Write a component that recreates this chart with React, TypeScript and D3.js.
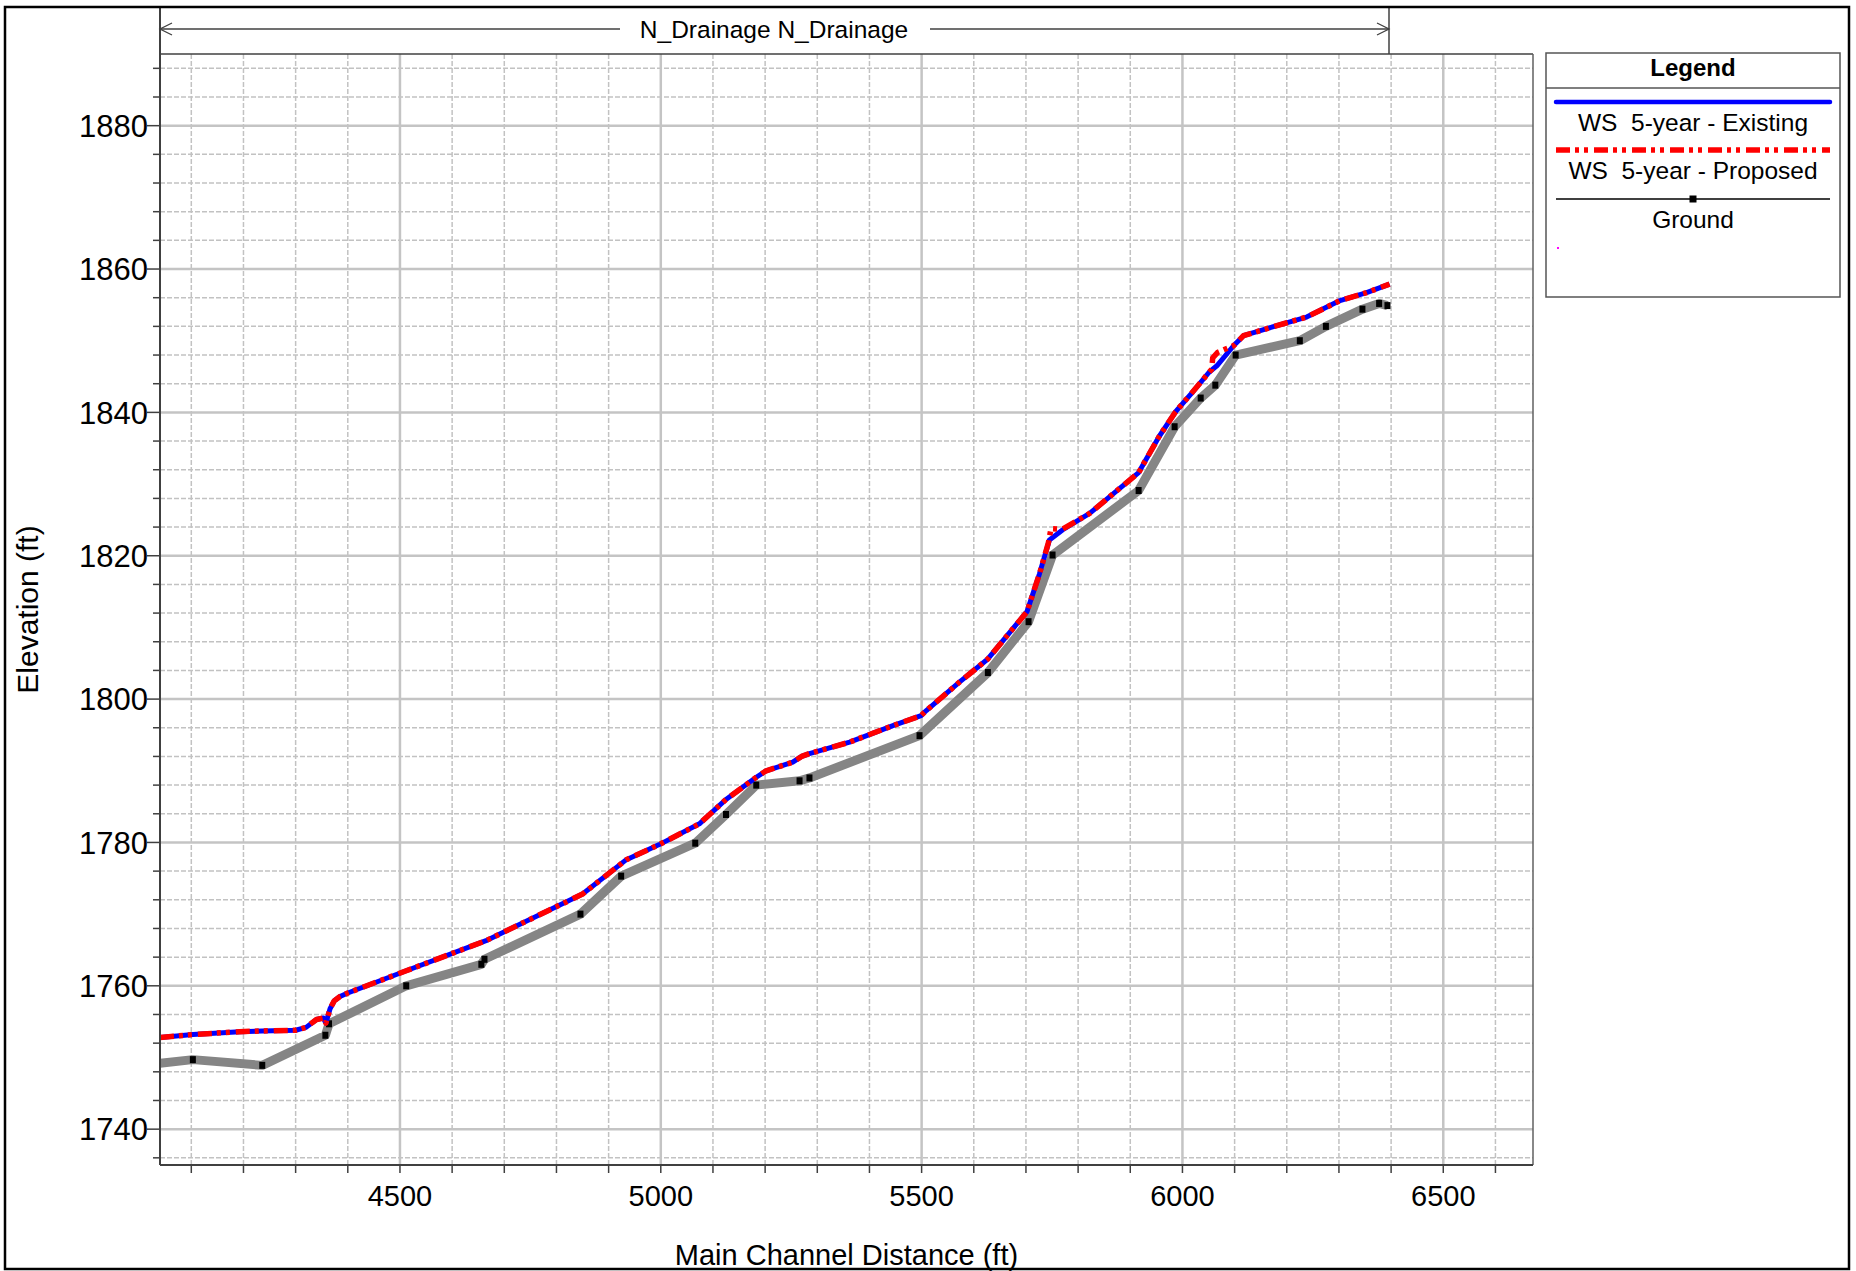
import React from "react";
import * as d3 from "d3";

// ---------- data ----------
const groundStation = [4040, 4103, 4236, 4357, 4364, 4512, 4656, 4662, 4846, 4924, 5066, 5125, 5183, 5266, 5285, 5496, 5627, 5705, 5751, 5916, 5985, 6035, 6063, 6102, 6225, 6275, 6345, 6377, 6393];
const groundElev = [1749.2, 1749.7, 1748.9, 1753.1, 1754.7, 1760.0, 1763.0, 1763.7, 1770.0, 1775.3, 1779.9, 1783.9, 1788.0, 1788.6, 1789.0, 1794.9, 1803.7, 1810.8, 1820.1, 1829.1, 1838.0, 1842.0, 1843.8, 1848.0, 1850.0, 1852.0, 1854.4, 1855.2, 1854.9];

const wsExistingStation = [4040, 4103, 4193, 4236, 4300, 4320, 4340, 4353, 4358, 4366, 4374, 4385, 4400, 4512, 4665, 4850, 4934, 4997, 5074, 5125, 5183, 5202, 5253, 5270, 5285, 5362, 5445, 5499, 5509, 5573, 5627, 5702, 5726, 5745, 5770, 5822, 5916, 5955, 5987, 6019, 6051, 6066, 6098, 6117, 6181, 6238, 6302, 6353, 6397];
const wsExistingElev = [1752.8, 1753.2, 1753.6, 1753.7, 1753.8, 1754.2, 1755.3, 1755.5, 1754.8, 1756.8, 1757.9, 1758.5, 1759.0, 1762.1, 1766.3, 1772.8, 1777.6, 1779.7, 1782.6, 1786.0, 1789.1, 1790.0, 1791.2, 1792.0, 1792.4, 1794.0, 1796.3, 1797.7, 1798.4, 1802.4, 1805.6, 1812.2, 1817.5, 1822.2, 1823.6, 1825.9, 1831.6, 1836.6, 1840.1, 1842.8, 1845.6, 1846.5, 1849.3, 1850.7, 1852.1, 1853.3, 1855.6, 1856.7, 1857.9];

const wsProposedStation = [4040, 4103, 4193, 4236, 4300, 4320, 4340, 4353, 4358, 4366, 4374, 4385, 4400, 4512, 4665, 4850, 4934, 4997, 5074, 5125, 5183, 5202, 5253, 5270, 5285, 5362, 5445, 5499, 5509, 5573, 5627, 5702, 5726, 5743, 5748, 5770, 5822, 5916, 5955, 5987, 6019, 6051, 6056, 6058, 6068, 6098, 6117, 6181, 6238, 6302, 6353, 6397];
const wsProposedElev = [1752.8, 1753.2, 1753.6, 1753.7, 1753.8, 1754.2, 1755.3, 1755.5, 1754.8, 1756.8, 1757.9, 1758.5, 1759.0, 1762.1, 1766.3, 1772.8, 1777.6, 1779.7, 1782.6, 1786.0, 1789.1, 1790.0, 1791.2, 1792.0, 1792.4, 1794.0, 1796.3, 1797.7, 1798.4, 1802.4, 1805.6, 1812.2, 1817.5, 1821.8, 1823.8, 1823.7, 1825.9, 1831.6, 1836.6, 1840.1, 1842.8, 1845.6, 1846.0, 1847.6, 1848.4, 1849.3, 1850.7, 1852.1, 1853.3, 1855.6, 1856.7, 1857.9];

const xTickLabels = [4500, 5000, 5500, 6000, 6500];
const yTickLabels = [1740, 1760, 1780, 1800, 1820, 1840, 1860, 1880];
const xMinorTicks = d3.range(4100, 6700, 100);
const yMinorTicks = d3.range(1736, 1890, 4);

const legendItems = ["WS  5-year - Existing", "WS  5-year - Proposed", "Ground"];
const reachTitle = "N_Drainage N_Drainage";
const xTitle = "Main Channel Distance (ft)";
const yTitle = "Elevation (ft)";

// ---------- layout ----------
const W = 1856;
const H = 1271;
const FONT = "'Liberation Sans', Arial, Helvetica, sans-serif";
const plot = { left: 160, right: 1533, top: 54, bottom: 1165 };

export default function App() {
  const x = d3.scaleLinear().domain([4040, 6672]).range([plot.left, plot.right]);
  const y = d3.scaleLinear().domain([1735, 1890]).range([plot.bottom, plot.top]);

  const line = d3
    .line<[number, number]>()
    .x((d) => x(d[0]))
    .y((d) => y(d[1]));

  const groundPts: [number, number][] = groundStation.map((s, i) => [s, groundElev[i]]);
  const wsePts: [number, number][] = wsExistingStation.map((s, i) => [s, wsExistingElev[i]]);
  const wspPts: [number, number][] = wsProposedStation.map((s, i) => [s, wsProposedElev[i]]);

  const redDash = "14 5 4 5 4 6";

  const lgX0 = 1556;
  const lgX1 = 1830;
  const lgCx = 1693;

  return (
    <svg
      width={W}
      height={H}
      style={{ position: "absolute", left: 0, top: 0, display: "block", background: "#fff" }}
      fontFamily={FONT}
    >
      <rect x={0} y={0} width={W} height={H} fill="#fff" />
      <defs>
        <clipPath id="plotClip">
          <rect x={plot.left} y={plot.top} width={plot.right - plot.left} height={plot.bottom - plot.top} />
        </clipPath>
      </defs>

      {/* minor grid */}
      <g stroke="#c2c2c2" strokeWidth={1.5} strokeDasharray="5 2">
        {xMinorTicks
          .filter((v) => v % 500 !== 0)
          .map((v) => (
            <line key={"gx" + v} x1={x(v)} x2={x(v)} y1={plot.top} y2={plot.bottom} />
          ))}
        {yMinorTicks
          .filter((v) => v % 20 !== 0)
          .map((v) => (
            <line key={"gy" + v} x1={plot.left} x2={plot.right} y1={y(v)} y2={y(v)} />
          ))}
      </g>
      {/* major grid */}
      <g stroke="#c4c4c4" strokeWidth={2.5}>
        {xTickLabels.map((v) => (
          <line key={"Gx" + v} x1={x(v)} x2={x(v)} y1={plot.top} y2={plot.bottom} />
        ))}
        {yTickLabels.map((v) => (
          <line key={"Gy" + v} x1={plot.left} x2={plot.right} y1={y(v)} y2={y(v)} />
        ))}
      </g>

      {/* data */}
      <g clipPath="url(#plotClip)">
        <path d={line(groundPts) || ""} fill="none" stroke="#858585" strokeWidth={9} strokeLinejoin="round" />
        {groundPts.slice(1).map((p, i) => (
          <rect key={"m" + i} x={x(p[0]) - 3} y={y(p[1]) - 3.5} width={6} height={7} fill="#000" />
        ))}
        <path d={line(wsePts) || ""} fill="none" stroke="#0000ff" strokeWidth={5} strokeLinejoin="round" />
        <path
          d={line(wspPts) || ""}
          fill="none"
          stroke="#ff0000"
          strokeWidth={5.5}
          strokeLinecap="butt"
          strokeLinejoin="round"
          strokeDasharray={redDash}
        />
      </g>

      {/* plot frame */}
      <line x1={plot.left} x2={plot.right} y1={plot.top} y2={plot.top} stroke="#404040" strokeWidth={1.5} />
      <line x1={plot.right} x2={plot.right} y1={plot.top} y2={plot.bottom} stroke="#606060" strokeWidth={1.5} />
      <line x1={plot.left} x2={plot.right} y1={plot.bottom} y2={plot.bottom} stroke="#404040" strokeWidth={2} />
      <line x1={plot.left} x2={plot.left} y1={7} y2={plot.bottom} stroke="#404040" strokeWidth={2} />

      {/* ticks */}
      <g stroke="#404040" strokeWidth={1.5}>
        {yMinorTicks.map((v) => (
          <line key={"ty" + v} x1={plot.left - (v % 20 === 0 ? 13 : 7)} x2={plot.left} y1={y(v)} y2={y(v)} />
        ))}
        {xMinorTicks.map((v) => (
          <line key={"tx" + v} x1={x(v)} x2={x(v)} y1={plot.bottom} y2={plot.bottom + 8} />
        ))}
      </g>
      <g fontSize={31} fill="#000" textAnchor="end">
        {yTickLabels.map((v) => (
          <text key={"ly" + v} x={plot.left - 12} y={y(v)} dy="0.36em">
            {v}
          </text>
        ))}
      </g>
      <g fontSize={29} fill="#000" textAnchor="middle">
        {xTickLabels.map((v) => (
          <text key={"lx" + v} x={x(v)} y={1206}>
            {v}
          </text>
        ))}
      </g>

      {/* axis titles */}
      <text x={(plot.left + plot.right) / 2} y={1265} fontSize={29} textAnchor="middle" fill="#000">
        {xTitle}
      </text>
      <text
        transform={`translate(38, ${(plot.top + plot.bottom) / 2}) rotate(-90)`}
        fontSize={30}
        textAnchor="middle"
        fill="#000"
      >
        {yTitle}
      </text>

      {/* reach title band */}
      <line x1={1389} x2={1389} y1={7} y2={plot.top} stroke="#404040" strokeWidth={1.5} />
      <g stroke="#404040" strokeWidth={1.3} fill="none">
        <line x1={plot.left} x2={620} y1={29} y2={29} />
        <line x1={930} x2={1389} y1={29} y2={29} />
        <polyline points={`${plot.left + 12},23 ${plot.left},29 ${plot.left + 12},35`} />
        <polyline points={`1377,23 1389,29 1377,35`} />
      </g>
      <text x={774} y={38} fontSize={24.5} textAnchor="middle" fill="#000">
        {reachTitle}
      </text>

      {/* legend */}
      <rect x={1546} y={53} width={294} height={244} fill="#fff" stroke="#555" strokeWidth={1.5} />
      <line x1={1546} x2={1840} y1={88} y2={88} stroke="#555" strokeWidth={1.5} />
      <text x={lgCx} y={76} fontSize={24} fontWeight="bold" textAnchor="middle" fill="#000">
        Legend
      </text>
      <line x1={lgX0} x2={lgX1} y1={102} y2={102} stroke="#0000ff" strokeWidth={4.5} strokeLinecap="round" />
      <text x={lgCx} y={131} fontSize={24.5} textAnchor="middle" fill="#000" style={{ whiteSpace: "pre" }}>
        {legendItems[0]}
      </text>
      <line
        x1={lgX0}
        x2={lgX1}
        y1={150}
        y2={150}
        stroke="#ff0000"
        strokeWidth={5.5}
        strokeLinecap="butt"
        strokeDasharray={redDash}
      />
      <text x={lgCx} y={179} fontSize={24.5} textAnchor="middle" fill="#000" style={{ whiteSpace: "pre" }}>
        {legendItems[1]}
      </text>
      <line x1={lgX0} x2={lgX1} y1={199} y2={199} stroke="#000" strokeWidth={1.5} />
      <rect x={lgCx - 3.5} y={195.5} width={7} height={7} fill="#000" />
      <text x={lgCx} y={228} fontSize={24.5} textAnchor="middle" fill="#000">
        {legendItems[2]}
      </text>
      <rect x={1557} y={247} width={2} height={2} fill="#ff00ff" />

      {/* outer frame */}
      <rect x={5} y={7} width={1844} height={1262} fill="none" stroke="#000" strokeWidth={2.5} />
    </svg>
  );
}
